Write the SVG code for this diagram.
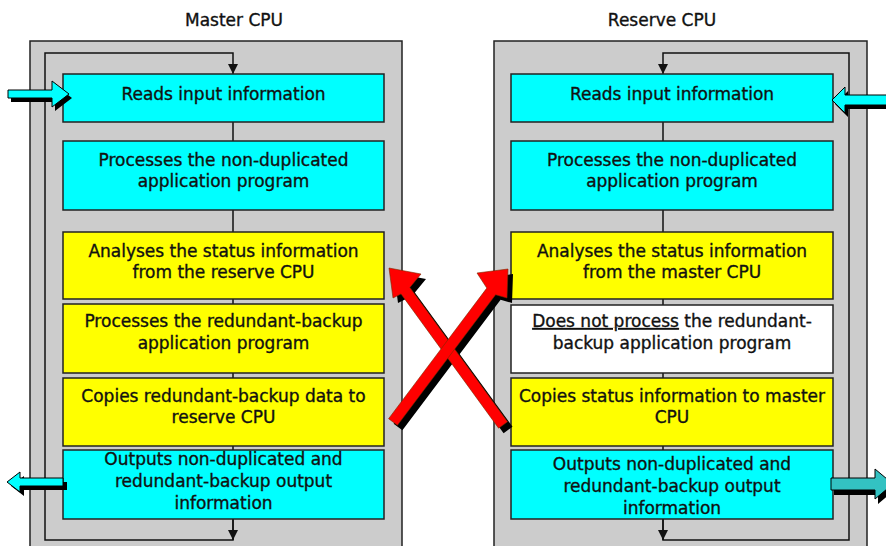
<svg xmlns="http://www.w3.org/2000/svg" width="886" height="546" viewBox="0 0 886 546">
<style>
text{font-family:"DejaVu Sans","Liberation Sans",sans-serif;font-size:17px;fill:#111;stroke:#111;stroke-width:0.35;text-anchor:middle}
.panel{fill:#cccccc;stroke:#222;stroke-width:1.5}
.box{stroke:#222;stroke-width:1.5}
.cy{fill:#00ffff}.ye{fill:#ffff00}.wh{fill:#ffffff}
.ln{fill:none;stroke:#111;stroke-width:1.5}
.sh{fill:#000}
.red{fill:#ff0000;stroke:#7a2a00;stroke-width:0.6}
.ca{fill:#00ffff;stroke:#000;stroke-width:1}
</style>
<defs>
<marker id="ah" viewBox="0 0 10 10" refX="10" refY="5" markerWidth="10" markerHeight="10" markerUnits="userSpaceOnUse" orient="auto">
<path d="M0,0 L10,5 L0,10 z" fill="#111"/>
</marker>
</defs>
<text x="234" y="26">Master CPU</text>
<text x="662" y="26">Reserve CPU</text>
<g id="master-panel"><rect class="panel" x="30" y="41" width="372" height="510"/></g>
<g id="reserve-panel"><rect class="panel" x="494" y="41" width="373" height="510"/></g>
<g id="connectors">
<path class="ln" d="M233,519 V540 H45 V53 H233 V74" marker-end="url(#ah)"/>
<path class="ln" d="M233,519 V540" marker-end="url(#ah)"/>
<path class="ln" d="M233,122 V141 M233,210 V232 M233,299 V304 M233,373 V378 M233,446 V450"/>
<path class="ln" d="M663,519 V540 H849 V53 H663 V74" marker-end="url(#ah)"/>
<path class="ln" d="M663,519 V540" marker-end="url(#ah)"/>
<path class="ln" d="M663,122 V141 M663,210 V232 M663,299 V305 M663,373 V378 M663,446 V450"/>
</g>
<g id="m-reads"><rect class="box cy" x="63" y="74" width="321" height="48"/><text x="223.5" y="100">Reads input information</text></g>
<g id="m-proc"><rect class="box cy" x="63" y="141" width="321" height="69"/><text x="223.5" y="166">Processes the non-duplicated</text><text x="223.5" y="187">application program</text></g>
<g id="m-anal"><rect class="box ye" x="63" y="232" width="321" height="67"/><text x="223.5" y="257">Analyses the status information</text><text x="223.5" y="278">from the reserve CPU</text></g>
<g id="m-red"><rect class="box ye" x="63" y="304" width="321" height="69"/><text x="223.5" y="327">Processes the redundant-backup</text><text x="223.5" y="349">application program</text></g>
<g id="m-copy"><rect class="box ye" x="63" y="378" width="321" height="68"/><text x="223.5" y="402">Copies redundant-backup data to</text><text x="223.5" y="423">reserve CPU</text></g>
<g id="m-out"><rect class="box cy" x="63" y="450" width="321" height="69"/><text x="223.5" y="465">Outputs non-duplicated and</text><text x="223.5" y="487">redundant-backup output</text><text x="223.5" y="509">information</text></g>
<g id="r-reads"><rect class="box cy" x="511" y="74" width="322" height="48"/><text x="672" y="100">Reads input information</text></g>
<g id="r-proc"><rect class="box cy" x="511" y="141" width="322" height="69"/><text x="672" y="166">Processes the non-duplicated</text><text x="672" y="187">application program</text></g>
<g id="r-anal"><rect class="box ye" x="511" y="232" width="322" height="67"/><text x="672" y="257">Analyses the status information</text><text x="672" y="278">from the master CPU</text></g>
<g id="r-nop"><rect class="box wh" x="511" y="305" width="322" height="68"/><text x="672" y="327"><tspan text-decoration="underline">Does not process</tspan> the redundant-</text><text x="672" y="349">backup application program</text></g>
<g id="r-copy"><rect class="box ye" x="511" y="378" width="322" height="68"/><text x="672" y="402">Copies status information to master</text><text x="672" y="423">CPU</text></g>
<g id="r-out"><rect class="box cy" x="511" y="450" width="322" height="69"/><text x="672" y="470">Outputs non-duplicated and</text><text x="672" y="492">redundant-backup output</text><text x="672" y="514">information</text></g>
<g id="io-arrows">
<polygon class="sh" transform="translate(3,4)" points="8,90 52,90 52,81 69,94 52,107 52,98 8,98"/>
<polygon class="ca" points="8,90 52,90 52,81 69,94 52,107 52,98 8,98"/>
<polygon class="sh" transform="translate(4,4)" points="20,478 63,478 63,486 20,486 20,492 7,482 20,472"/>
<polygon class="ca" points="20,478 63,478 63,486 20,486 20,492 7,482 20,472"/>
<polygon class="sh" transform="translate(3,4)" points="890,95 845,95 845,87 832,100 845,113 845,105 890,105"/>
<polygon class="ca" points="890,95 845,95 845,87 832,100 845,113 845,105 890,105"/>
<polygon class="sh" transform="translate(3,5)" points="831,478 875,478 875,469 893,484 875,499 875,490 831,490"/>
<polygon fill="#33c2c2" stroke="#000" stroke-width="1" points="831,478 875,478 875,469 893,484 875,499 875,490 831,490"/>
</g>
<g id="cross-arrows">
<polygon class="sh" transform="translate(5,5)" points="498.6,428.2 401,293.9 393,298 389,268 421,274 409.9,287.4 507.5,421.8"/>
<polygon class="sh" transform="translate(5,5)" points="388.6,418.7 486.8,288.1 477,273 508,269 507,298 495.6,294.7 397.4,425.3"/>
<polygon class="red" points="498.6,428.2 401,293.9 393,298 389,268 421,274 409.9,287.4 507.5,421.8"/>
<polygon class="red" points="388.6,418.7 486.8,288.1 477,273 508,269 507,298 495.6,294.7 397.4,425.3"/>
</g>
</svg>
